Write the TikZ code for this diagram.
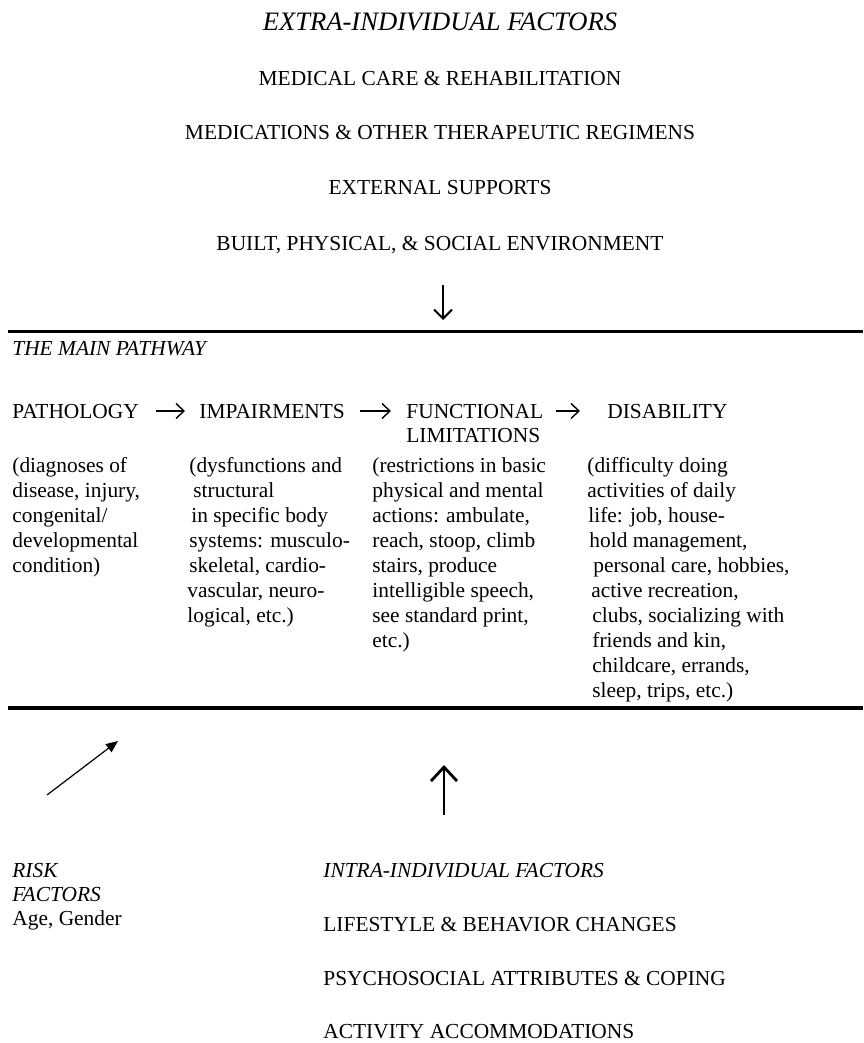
\documentclass[tikz,border=0pt]{standalone}
\usepackage{fontspec}
\setmainfont{Liberation Serif}
\usetikzlibrary{arrows.meta}
\begin{document}
\begin{tikzpicture}[x=0.5pt,y=-0.5pt,
  txt/.style={font=\fontsize{10.7}{12.5}\selectfont, inner sep=0pt, anchor=base west},
  itx/.style={txt, font=\fontsize{10.7}{12.5}\selectfont\itshape},
  ctr/.style={txt, anchor=base},
  ttl/.style={font=\fontsize{13.3}{16}\selectfont\itshape, inner sep=0pt, anchor=base},
  rulebar/.style={line width=1.6pt},
  varrow/.style={line width=1pt, -{Straight Barb[length=4.5pt,width=9pt]}},
  uarrow/.style={line width=1.4pt, -{Straight Barb[length=7pt,width=13pt]}},
  harrow/.style={line width=0.7pt, -{Straight Barb[length=4pt,width=7.5pt]}},
  darrow/.style={line width=0.6pt, -{Triangle[length=6pt,width=5pt]}}]
\useasboundingbox (0,0) rectangle (863,1043);
% extra-individual factors
\node[ttl] (extra) at (440,31) {EXTRA-INDIVIDUAL FACTORS};
\node[ctr] (med) at (440,86) {MEDICAL CARE \& REHABILITATION};
\node[ctr] (meds) at (440,140) {MEDICATIONS \& OTHER THERAPEUTIC REGIMENS};
\node[ctr] (ext) at (440,195) {EXTERNAL SUPPORTS};
\node[ctr] (built) at (440,250) {BUILT, PHYSICAL, \& SOCIAL ENVIRONMENT};
\coordinate (dtop) at (443,285);
\coordinate (dbot) at (443,320);
\draw[varrow] (dtop) -- (dbot);
% main pathway band
\coordinate (r1a) at (8,331.5);
\coordinate (r1b) at (863,331.5);
\draw[rulebar] (r1a) -- (r1b);
\node[itx] (main) at (12,355) {THE MAIN PATHWAY};
\node[txt] (path) at (12,418) {PATHOLOGY};
\node[txt] (imp) at (199,418) {IMPAIRMENTS};
\node[txt] (func) at (406,418) {FUNCTIONAL};
\node[txt] (lim) at (406,442) {LIMITATIONS};
\node[txt] (dis) at (607,418) {DISABILITY};
\draw[harrow, shorten <=8.5pt, shorten >=7pt] ([yshift=3.5pt]path.base east) -- ([yshift=3.5pt]imp.base west);
\draw[harrow, shorten <=7.5pt, shorten >=7.5pt] ([yshift=3.5pt]imp.base east) -- ([yshift=3.5pt]func.base west);
\draw[harrow, shorten <=6pt, shorten >=13.5pt] ([yshift=3.5pt]func.base east) -- ([yshift=3.5pt]dis.base west);
\node[txt] (d1) at (12,472) {\begin{tabular}[t]{@{}l@{}}(diagnoses of\\disease, injury,\\congenital/\\developmental\\condition)\end{tabular}};
\node[txt] (d2) at (187,472) {\begin{tabular}[t]{@{}l@{}}\hspace{1pt}(dysfunctions and\\\hspace{3pt}structural\\\hspace{2pt}in specific body\\\hspace{1pt}systems: musculo-\\\hspace{1pt}skeletal, cardio-\\vascular, neuro-\\logical, etc.)\end{tabular}};
\node[txt] (d3) at (372,472) {\begin{tabular}[t]{@{}l@{}}(restrictions in basic\\physical and mental\\actions: ambulate,\\reach, stoop, climb\\stairs, produce\\intelligible speech,\\see standard print,\\etc.)\end{tabular}};
\node[txt] (d4) at (587,472) {\begin{tabular}[t]{@{}l@{}}(difficulty doing\\activities of daily\\\hspace{0.5pt}life: job, house-\\\hspace{1pt}hold management,\\\hspace{3pt}personal care, hobbies,\\\hspace{2pt}active recreation,\\\hspace{2.5pt}clubs, socializing with\\\hspace{2.5pt}friends and kin,\\\hspace{2.5pt}childcare, errands,\\\hspace{2.5pt}sleep, trips, etc.)\end{tabular}};
\coordinate (r2a) at (8,708);
\coordinate (r2b) at (863,708);
\draw[rulebar] (r2a) -- (r2b);
% risk factors
\coordinate (rtail) at (47,795);
\coordinate (rhead) at (118,741);
\draw[darrow] (rtail) -- (rhead);
\node[txt, font=\fontsize{10.7}{12}\selectfont] (risk) at (12,877) {\begin{tabular}[t]{@{}l@{}}\textit{RISK}\\\textit{FACTORS}\\Age, Gender\end{tabular}};
% intra-individual factors
\coordinate (ubot) at (444,815);
\coordinate (utop) at (444,765);
\draw[uarrow] (ubot) -- (utop);
\node[itx] (intra) at (323,877) {INTRA-INDIVIDUAL FACTORS};
\node[txt] (life) at (323,931) {LIFESTYLE \& BEHAVIOR CHANGES};
\node[txt] (psy) at (323,985) {PSYCHOSOCIAL ATTRIBUTES \& COPING};
\node[txt] (act) at (323,1038) {ACTIVITY ACCOMMODATIONS};
\end{tikzpicture}
\end{document}
